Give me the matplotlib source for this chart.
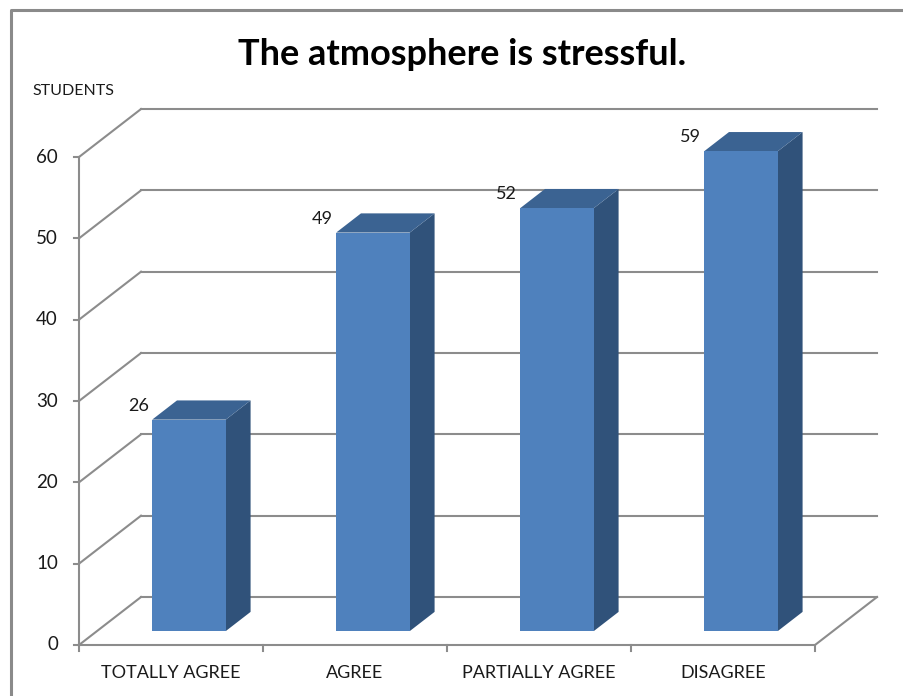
import matplotlib.pyplot as plt
from matplotlib.patches import Polygon

categories = ["TOTALLY AGREE", "AGREE", "PARTIALLY AGREE", "DISAGREE"]
students = [26, 49, 52, 59]
y_ticks = [0, 10, 20, 30, 40, 50, 60]

title = "The atmosphere is stressful."
y_label = "STUDENTS"

# fake 3d box, in data units (x = category slots, y = students)
DX, DY = 0.337, 5.9          # offset of the back wall
D0, D1 = 0.29, 0.69          # bar depth (front, back) as fraction of the box depth
BAR_W = 0.40
FRONT, TOP, SIDE = "#4f81bd", "#3b6392", "#30527a"
GRID = "#8c8c8c"
FONT = "Lato"


def proj(x, v, d):
    return x + d * DX, v + d * DY


fig = plt.figure(figsize=(9.04, 6.96), dpi=100)
ax = fig.add_axes([0, 0, 1, 1])
ax.set_xlim(-79 / 184, 825 / 184)
ax.set_ylim(-51 / 8.133, 645 / 8.133)
ax.axis("off")

n = len(categories)
top = y_ticks[-1]

# back wall + left wall gridlines
for t in y_ticks:
    bx0, by0 = proj(0, t, 1)
    bx1, by1 = proj(n, t, 1)
    ax.plot([bx0, bx1], [by0, by1], color=GRID, lw=1.5, zorder=1)
    fx, fy = proj(0, t, 0)
    ax.plot([fx, bx0], [fy, by0], color=GRID, lw=1.5, zorder=1)
    ax.plot([fx - 5 / 184, fx], [fy, fy], color=GRID, lw=1.5, zorder=1)
    ax.text(fx - 21 / 184, fy, str(t), ha="right", va="center",
            fontsize=13.5, family=FONT, color="#1a1a1a")

# floor
fl = [proj(0, 0, 0), proj(n, 0, 0), proj(n, 0, 1)]
ax.plot([p[0] for p in fl], [p[1] for p in fl], color=GRID, lw=1.5, zorder=1)
ax.plot([0, 0], [0, top], color=GRID, lw=1.5, zorder=1)
for i in range(n + 1):
    ax.plot([i, i], [0, -0.7], color=GRID, lw=1.5, zorder=1)

# bars
for i, v in enumerate(students):
    xl = i + 0.5 - BAR_W / 2
    xr = xl + BAR_W
    front = [proj(xl, 0, D0), proj(xr, 0, D0), proj(xr, v, D0), proj(xl, v, D0)]
    lid = [proj(xl, v, D0), proj(xr, v, D0), proj(xr, v, D1), proj(xl, v, D1)]
    side = [proj(xr, 0, D0), proj(xr, 0, D1), proj(xr, v, D1), proj(xr, v, D0)]
    ax.add_patch(Polygon(side, closed=True, fc=SIDE, ec="none", zorder=3))
    ax.add_patch(Polygon(lid, closed=True, fc=TOP, ec="none", zorder=3))
    ax.add_patch(Polygon(front, closed=True, fc=FRONT, ec="none", zorder=4))
    lx, ly = proj(xl, v, D0)
    ax.text(lx - 14 / 184, ly + 1.7, str(v), ha="center", va="center",
            fontsize=13, family=FONT, color="#1a1a1a", zorder=5)
    ax.text(i + 0.5, -3.45, categories[i], ha="center", va="center",
            fontsize=13, family=FONT, color="#1a1a1a")

ax.text((462 - 79) / 184, 645 / 8.133 - 55 / 8.133, title, ha="center", va="center",
        fontsize=26, fontweight="bold", family=FONT, color="black")
ax.text(-47 / 184, (645 - 91) / 8.133, y_label, ha="left", va="center",
        fontsize=11.5, family=FONT, color="#1a1a1a")

# chart border (runs off the right and bottom edges)
ax.plot([11 / 904, 11 / 904, 1], [0, 1 - 10 / 696, 1 - 10 / 696],
        transform=ax.transAxes, color="#8a8a8a", lw=2.2, clip_on=False)

fig.savefig("out.png", dpi=100)
